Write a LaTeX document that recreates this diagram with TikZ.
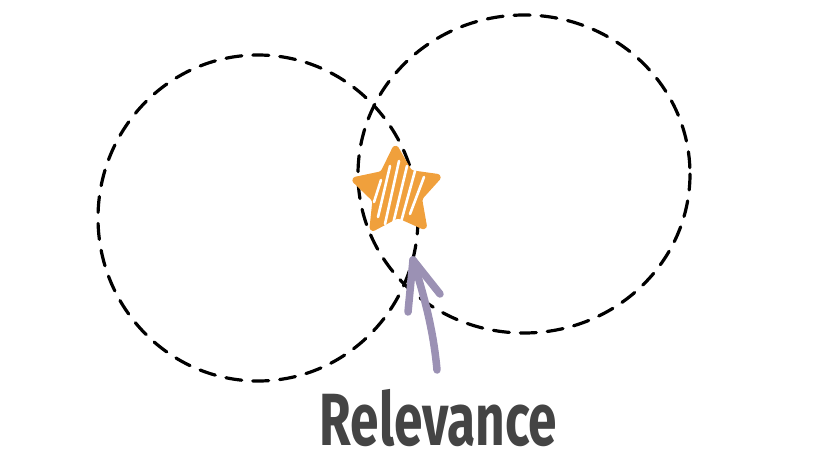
\documentclass[tikz,border=0pt]{standalone}
\usepackage{fontspec}
\setmainfont{Fira Sans}
\definecolor{starorange}{RGB}{240,160,60}
\definecolor{arrowgray}{RGB}{155,145,180}
\definecolor{textgray}{RGB}{68,68,68}
\begin{document}
\begin{tikzpicture}[x=1pt,y=-1pt,
  setcircle/.style={draw=black,line width=3.2pt,dash pattern=on 16pt off 11pt,line cap=round},
  hatch/.style={draw=white,line width=2.6pt,line cap=round},
  arrowstroke/.style={draw=arrowgray,line width=7.5pt,line cap=round,line join=round}]
\useasboundingbox (0,0) rectangle (840,456);
% sets
\draw[setcircle] (258,218) ellipse [x radius=160,y radius=163];
\draw[setcircle] (524,174) ellipse [x radius=166,y radius=159];
% star
\coordinate (sc) at (397,192);
\fill[starorange,rounded corners=3pt,line join=round,draw=starorange,line width=4pt]
  ([shift={(268:46)}]sc) -- ([shift={(304:24)}]sc) -- ([shift={(340:46)}]sc) -- ([shift={(16:24)}]sc)
  -- ([shift={(52:46)}]sc) -- ([shift={(88:24)}]sc) -- ([shift={(124:46)}]sc)
  -- ([shift={(160:24)}]sc) -- ([shift={(196:46)}]sc) -- ([shift={(232:24)}]sc) -- cycle;
% hatching
\foreach \a/\b/\c/\d in {381/180/374/202, 390/166/378/217, 399/161/385/224, 407/166/393/224, 415/171/401/222, 424/177/410/214}
  \draw[hatch] (\a,\b) -- (\c,\d);
% arrow
\coordinate (tail) at (437,370);
\coordinate (tip) at (413,260);
\draw[arrowstroke] (tail) .. controls (433,325) and (422,290) .. (tip);
\draw[arrowstroke] (408,312) -- (tip) -- (440,294);
% label
\node[text=textgray,inner sep=0pt,anchor=base,text depth=0pt,font=\fontsize{74pt}{74pt}\selectfont\bfseries,xscale=0.695,transform shape] (label) at (438.5,445)
  {Relevance};
\end{tikzpicture}
\end{document}
